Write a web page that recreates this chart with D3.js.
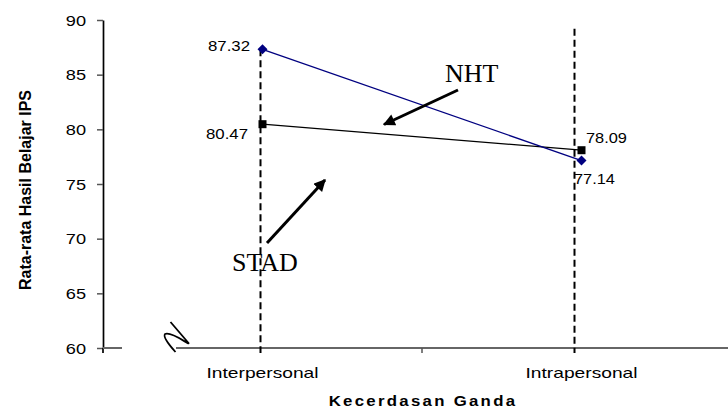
<!DOCTYPE html>
<html>
<head>
<meta charset="utf-8">
<script src="https://d3js.org/d3.v7.min.js"></script>
<style>
  html, body { margin: 0; padding: 0; background: #fff; }
  svg { display: block; }
</style>
</head>
<body>
<svg id="chart" width="728" height="410"></svg>
<script>
// data
const categories = ['Interpersonal', 'Intrapersonal'];
const nhtValues = [87.32, 77.14];
const stadValues = [80.47, 78.09];
const yTicks = [60, 65, 70, 75, 80, 85, 90];
const guideTops = [87.32, 89.2]; // where the dashed guides start

const svg = d3.select('#chart');
const FONT = 'Arial, "Liberation Sans", sans-serif';
const SERIF = '"Times New Roman", "Liberation Serif", serif';

const y = d3.scaleLinear().domain([60, 90]).range([348, 20]);
const x = d3.scaleBand().domain(categories).range([103, 741]);
const cx = c => x(c) + x.bandwidth() / 2;
const guideNudge = [-2, -7];

// stretched text helper (the original glyphs are wide)
function stext(g, str, tx, ty, opt = {}) {
    return g.append('text')
        .attr('transform', `translate(${tx},${ty}) ${opt.rotate ? `rotate(${opt.rotate})` : ''} scale(${opt.sx || 1.2},1)`)
        .attr('text-anchor', opt.anchor || 'start')
        .attr('font-family', opt.family || FONT)
        .attr('font-size', opt.size || 14)
        .attr('font-weight', opt.weight || 'normal')
        .attr('letter-spacing', opt.ls || 0)
        .attr('fill', '#000')
        .text(str);
}

// y axis
const yAxis = svg.append('g')
    .attr('transform', 'translate(103,0)')
    .call(d3.axisLeft(y).tickValues(yTicks).tickSize(6).tickSizeOuter(0));
yAxis.select('.domain').attr('stroke', '#000').attr('stroke-width', 1.7);
yAxis.selectAll('.tick line').attr('stroke', '#555').attr('stroke-width', 1.5);
yAxis.selectAll('.tick text')
    .attr('x', null).attr('dy', '0.36em')
    .attr('transform', 'translate(-17,0) scale(1.3,1)')
    .attr('font-family', FONT).attr('font-size', 14).attr('fill', '#000');
svg.append('line')
    .attr('x1', 103).attr('x2', 103).attr('y1', y(60)).attr('y2', y(60) + 5)
    .attr('stroke', '#000').attr('stroke-width', 1.7);

// x axis (broken)
const xa = svg.append('g');
xa.append('line').attr('x1', 103).attr('x2', 122).attr('y1', y(60)).attr('y2', y(60))
    .attr('stroke', '#666').attr('stroke-width', 2);
xa.append('line').attr('x1', 176).attr('x2', 728).attr('y1', y(60)).attr('y2', y(60))
    .attr('stroke', '#666').attr('stroke-width', 2);
xa.append('line').attr('x1', x(categories[1])).attr('x2', x(categories[1]))
    .attr('y1', y(60)).attr('y2', y(60) + 5)
    .attr('stroke', '#555').attr('stroke-width', 1.5);
// break mark
const by = y(60);
xa.append('path')
    .attr('d', `M170.5,${by - 26} L188.5,${by - 5} C190,${by - 2} 172,${by - 17} 165,${by - 14} C162.5,${by - 11} 171,${by - 1} 175.5,${by + 4}`)
    .attr('fill', 'none').attr('stroke', '#000').attr('stroke-width', 1.8)
    .attr('stroke-linejoin', 'round');

// category labels
categories.forEach(c => stext(svg, c, cx(c), 378, { anchor: 'middle', size: 15, sx: 1.28 }));

// axis titles
stext(svg, 'Kecerdasan Ganda', 423, 406, { anchor: 'middle', size: 14, weight: 'bold', sx: 1.2, ls: 1.9 });
stext(svg, 'Rata-rata Hasil Belajar IPS', 31, 190, { anchor: 'middle', size: 16, weight: 'bold', sx: 1.0, rotate: -90 });

// dashed guides
categories.forEach((c, i) => {
    svg.append('line')
        .attr('x1', cx(c) + guideNudge[i]).attr('x2', cx(c) + guideNudge[i])
        .attr('y1', y(guideTops[i])).attr('y2', y(60) + 5)
        .attr('stroke', '#000').attr('stroke-width', 2)
        .attr('stroke-dasharray', '7,4');
});

// series lines
const line = d3.line().x((d, i) => cx(categories[i])).y(d => y(d));
svg.append('path').datum(stadValues).attr('d', line)
    .attr('fill', 'none').attr('stroke', '#000').attr('stroke-width', 1.3);
svg.append('path').datum(nhtValues).attr('d', line)
    .attr('fill', 'none').attr('stroke', '#000080').attr('stroke-width', 1.3);

// markers
svg.append('g').selectAll('rect').data(stadValues).join('rect')
    .attr('x', (d, i) => cx(categories[i]) - 4).attr('y', d => y(d) - 4)
    .attr('width', 8).attr('height', 8).attr('fill', '#000');
svg.append('g').selectAll('path').data(nhtValues).join('path')
    .attr('transform', (d, i) => `translate(${cx(categories[i])},${y(d)})`)
    .attr('d', 'M0,-5 L5,0 L0,5 L-5,0 Z').attr('fill', '#000080');

// value labels
stext(svg, nhtValues[0].toFixed(2), 250, 51, { anchor: 'end', size: 14, sx: 1.2 });
stext(svg, stadValues[0].toFixed(2), 248, 139, { anchor: 'end', size: 14, sx: 1.2 });
stext(svg, stadValues[1].toFixed(2), 586, 143, { size: 14, sx: 1.17 });
stext(svg, nhtValues[1].toFixed(2), 574, 184, { size: 14, sx: 1.17 });

// annotations
const defs = svg.append('defs');
defs.append('marker').attr('id', 'ah')
    .attr('viewBox', '0 0 10 10').attr('refX', 9).attr('refY', 5)
    .attr('markerWidth', 4.2).attr('markerHeight', 4).attr('markerUnits', 'strokeWidth')
    .attr('orient', 'auto')
    .append('path').attr('d', 'M0,0 L10,5 L0,10 Z').attr('fill', '#000');

svg.append('text').attr('x', 445).attr('y', 82)
    .attr('font-family', SERIF).attr('font-size', 26).text('NHT');
svg.append('line').attr('x1', 458).attr('y1', 90).attr('x2', 384).attr('y2', 124.5)
    .attr('stroke', '#000').attr('stroke-width', 3).attr('marker-end', 'url(#ah)');

svg.append('text').attr('x', 232).attr('y', 271)
    .attr('font-family', SERIF).attr('font-size', 26).text('STAD');
svg.append('line').attr('x1', 267).attr('y1', 243).attr('x2', 325).attr('y2', 180)
    .attr('stroke', '#000').attr('stroke-width', 3).attr('marker-end', 'url(#ah)');
</script>
</body>
</html>
